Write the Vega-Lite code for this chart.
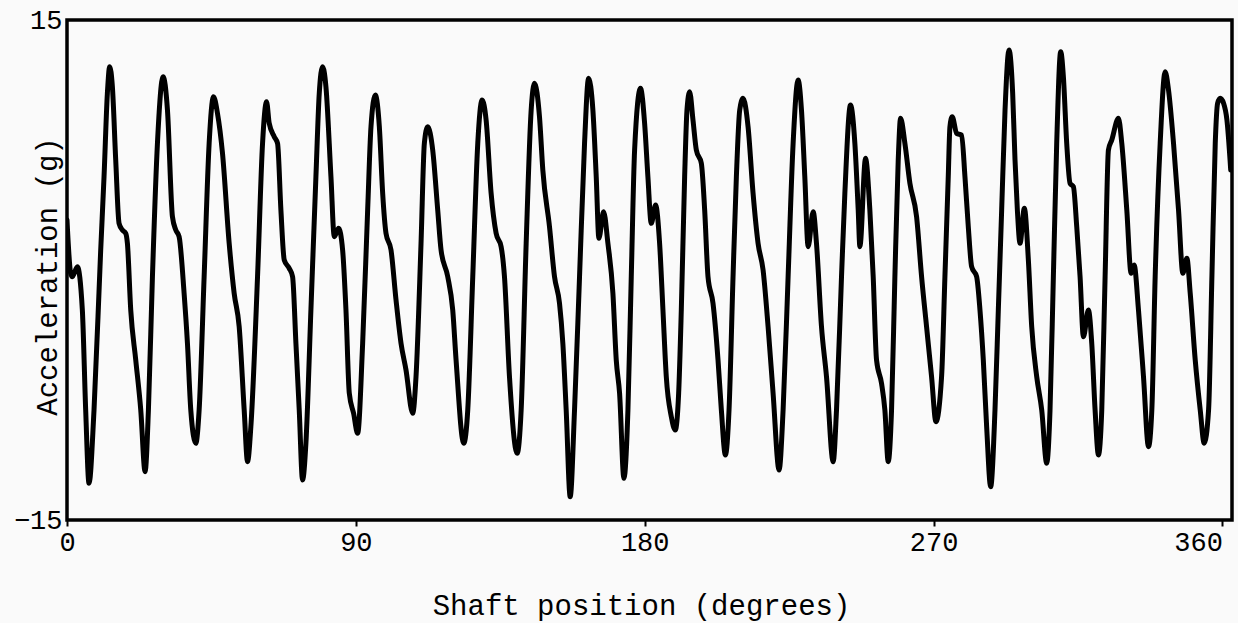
{
  "$schema": "https://vega.github.io/schema/vega-lite/v6.json",
  "width": 1165,
  "height": 500,
  "autosize": "none",
  "padding": {"left": 67, "top": 20, "right": 6, "bottom": 103},
  "background": "#fafafa",
  "config": {
    "view": {"stroke": "black", "strokeWidth": 3.5},
    "font": "Liberation Mono"
  },
  "data": {
    "values": [
      {"deg": 0, "g": 3.0}, {"deg": 1.14, "g": -0.2}, {"deg": 1.66, "g": -0.4}, {"deg": 3.22, "g": 0.2},
      {"deg": 4.78, "g": -2.4}, {"deg": 5.82, "g": -8.4}, {"deg": 6.86, "g": -12.8}, {"deg": 8.42, "g": -8.4},
      {"deg": 10.5, "g": 1.2}, {"deg": 11.54, "g": 5.6}, {"deg": 12.58, "g": 10.6}, {"deg": 13.31, "g": 12.2},
      {"deg": 14.14, "g": 11.0}, {"deg": 15.18, "g": 6.6}, {"deg": 16.22, "g": 2.8}, {"deg": 17.26, "g": 2.4},
      {"deg": 18.3, "g": 2.2}, {"deg": 18.82, "g": 1.6}, {"deg": 19.86, "g": -2.4}, {"deg": 21.42, "g": -5.4},
      {"deg": 22.98, "g": -8.4}, {"deg": 24.33, "g": -12.1}, {"deg": 25.37, "g": -8.4}, {"deg": 26.62, "g": -0.4},
      {"deg": 28.18, "g": 7.6}, {"deg": 29.94, "g": 11.6}, {"deg": 31.3, "g": 9.6}, {"deg": 32.85, "g": 3.2},
      {"deg": 33.9, "g": 2.4}, {"deg": 34.93, "g": 2.0}, {"deg": 36.49, "g": -1.4}, {"deg": 37.53, "g": -4.4},
      {"deg": 38.57, "g": -8.4}, {"deg": 40.13, "g": -10.4}, {"deg": 41.17, "g": -8.4}, {"deg": 42.73, "g": -0.4},
      {"deg": 44.29, "g": 7.6}, {"deg": 45.64, "g": 10.4}, {"deg": 46.89, "g": 9.4}, {"deg": 48.45, "g": 7.0},
      {"deg": 50.53, "g": 1.6}, {"deg": 52.09, "g": -1.4}, {"deg": 53.65, "g": -3.4}, {"deg": 55.21, "g": -8.4},
      {"deg": 56.25, "g": -11.5}, {"deg": 57.29, "g": -9.4}, {"deg": 59.37, "g": -0.4}, {"deg": 60.93, "g": 7.6},
      {"deg": 62.18, "g": 10.1}, {"deg": 63.01, "g": 8.8}, {"deg": 64.57, "g": 8.0}, {"deg": 65.61, "g": 7.6},
      {"deg": 66.65, "g": 3.6}, {"deg": 67.69, "g": 0.6}, {"deg": 69.25, "g": 0.1}, {"deg": 70.29, "g": -0.4},
      {"deg": 71.33, "g": -4.4}, {"deg": 72.36, "g": -8.4}, {"deg": 73.4, "g": -12.6}, {"deg": 74.44, "g": -10.4},
      {"deg": 76.0, "g": -2.4}, {"deg": 77.56, "g": 5.6}, {"deg": 78.6, "g": 10.6}, {"deg": 79.64, "g": 12.2},
      {"deg": 80.68, "g": 11.0}, {"deg": 82.24, "g": 5.6}, {"deg": 83.28, "g": 2.0}, {"deg": 84.63, "g": 2.5},
      {"deg": 85.88, "g": 1.2}, {"deg": 86.92, "g": -2.4}, {"deg": 87.96, "g": -7.4}, {"deg": 89.3, "g": -8.6},
      {"deg": 90.56, "g": -9.8}, {"deg": 92.12, "g": -4.4}, {"deg": 93.68, "g": 3.6}, {"deg": 94.72, "g": 8.6},
      {"deg": 96.07, "g": 10.5}, {"deg": 97.32, "g": 8.6}, {"deg": 98.36, "g": 4.6}, {"deg": 99.4, "g": 2.2},
      {"deg": 100.96, "g": 1.2}, {"deg": 102.52, "g": -1.8}, {"deg": 104.08, "g": -4.4}, {"deg": 105.63, "g": -6.0},
      {"deg": 107.71, "g": -8.6}, {"deg": 108.75, "g": -6.4}, {"deg": 110.31, "g": 1.6}, {"deg": 111.35, "g": 7.6},
      {"deg": 112.39, "g": 8.6}, {"deg": 113.95, "g": 7.2}, {"deg": 115.51, "g": 3.6}, {"deg": 116.55, "g": 1.2},
      {"deg": 118.63, "g": -0.4}, {"deg": 120.19, "g": -2.4}, {"deg": 121.23, "g": -5.4}, {"deg": 123.62, "g": -10.4},
      {"deg": 124.87, "g": -8.4}, {"deg": 126.43, "g": -0.4}, {"deg": 127.99, "g": 7.6}, {"deg": 129.34, "g": 10.2},
      {"deg": 130.59, "g": 9.0}, {"deg": 132.15, "g": 4.6}, {"deg": 133.71, "g": 2.2}, {"deg": 135.27, "g": 1.4},
      {"deg": 136.31, "g": -0.4}, {"deg": 137.87, "g": -6.4}, {"deg": 140.26, "g": -11.0}, {"deg": 141.51, "g": -8.4},
      {"deg": 143.07, "g": 1.6}, {"deg": 144.63, "g": 9.6}, {"deg": 145.66, "g": 11.2}, {"deg": 147.22, "g": 9.2},
      {"deg": 148.26, "g": 6.0}, {"deg": 150.34, "g": 2.6}, {"deg": 151.9, "g": -0.4}, {"deg": 153.46, "g": -2.0},
      {"deg": 154.5, "g": -4.4}, {"deg": 155.54, "g": -8.4}, {"deg": 156.79, "g": -13.6}, {"deg": 158.14, "g": -8.4},
      {"deg": 159.7, "g": -0.4}, {"deg": 161.26, "g": 7.6}, {"deg": 162.51, "g": 11.5}, {"deg": 163.86, "g": 9.6},
      {"deg": 164.9, "g": 5.6}, {"deg": 165.73, "g": 1.9}, {"deg": 167.19, "g": 3.5}, {"deg": 168.54, "g": 1.6},
      {"deg": 170.1, "g": -1.4}, {"deg": 171.14, "g": -5.4}, {"deg": 172.18, "g": -7.4}, {"deg": 173.53, "g": -12.5},
      {"deg": 174.78, "g": -8.4}, {"deg": 175.82, "g": -0.4}, {"deg": 176.86, "g": 7.2}, {"deg": 178.7, "g": 10.9},
      {"deg": 179.98, "g": 8.8}, {"deg": 181.0, "g": 5.6}, {"deg": 182.05, "g": 2.8}, {"deg": 183.4, "g": 3.9},
      {"deg": 184.65, "g": 1.6}, {"deg": 185.69, "g": -2.4}, {"deg": 186.73, "g": -6.4}, {"deg": 188.29, "g": -8.8},
      {"deg": 189.53, "g": -9.6}, {"deg": 190.58, "g": -7.4}, {"deg": 191.41, "g": -2.4}, {"deg": 192.45, "g": 5.6},
      {"deg": 193.18, "g": 9.6}, {"deg": 194.01, "g": 10.7}, {"deg": 195.05, "g": 9.0}, {"deg": 196.09, "g": 7.2},
      {"deg": 197.65, "g": 6.4}, {"deg": 198.69, "g": 3.6}, {"deg": 199.73, "g": -0.4}, {"deg": 201.29, "g": -2.0},
      {"deg": 202.85, "g": -5.4}, {"deg": 203.89, "g": -8.4}, {"deg": 205.14, "g": -11.1}, {"deg": 206.28, "g": -8.4},
      {"deg": 207.53, "g": -0.4}, {"deg": 208.57, "g": 5.6}, {"deg": 209.61, "g": 9.6}, {"deg": 210.65, "g": 10.3},
      {"deg": 212.21, "g": 8.6}, {"deg": 213.77, "g": 4.6}, {"deg": 215.33, "g": 1.6}, {"deg": 216.89, "g": 0.0},
      {"deg": 218.45, "g": -3.4}, {"deg": 220.01, "g": -7.4}, {"deg": 221.88, "g": -12.0}, {"deg": 223.13, "g": -8.4},
      {"deg": 224.69, "g": -0.4}, {"deg": 226.25, "g": 7.6}, {"deg": 227.81, "g": 11.4}, {"deg": 228.85, "g": 9.6},
      {"deg": 229.89, "g": 5.6}, {"deg": 230.93, "g": 1.4}, {"deg": 232.49, "g": 3.5}, {"deg": 233.53, "g": 1.6},
      {"deg": 235.09, "g": -3.4}, {"deg": 236.65, "g": -6.4}, {"deg": 238.73, "g": -11.5}, {"deg": 239.77, "g": -8.4},
      {"deg": 241.33, "g": -0.4}, {"deg": 242.37, "g": 4.6}, {"deg": 244.13, "g": 9.9}, {"deg": 245.49, "g": 7.6},
      {"deg": 246.53, "g": 3.6}, {"deg": 247.05, "g": 1.4}, {"deg": 248.81, "g": 6.7}, {"deg": 250.16, "g": 3.6},
      {"deg": 251.2, "g": -0.4}, {"deg": 252.24, "g": -5.4}, {"deg": 253.8, "g": -6.8}, {"deg": 254.84, "g": -8.4},
      {"deg": 255.88, "g": -11.5}, {"deg": 256.92, "g": -8.4}, {"deg": 257.96, "g": -0.4}, {"deg": 259.0, "g": 6.6},
      {"deg": 259.73, "g": 9.1}, {"deg": 261.08, "g": 7.6}, {"deg": 262.64, "g": 5.2}, {"deg": 264.72, "g": 3.2},
      {"deg": 266.28, "g": -0.4}, {"deg": 267.83, "g": -3.4}, {"deg": 269.39, "g": -6.4}, {"deg": 270.75, "g": -9.1},
      {"deg": 272.51, "g": -6.4}, {"deg": 273.55, "g": -0.4}, {"deg": 274.59, "g": 5.6}, {"deg": 275.11, "g": 8.6},
      {"deg": 275.83, "g": 9.2}, {"deg": 277.19, "g": 8.2}, {"deg": 278.75, "g": 8.1}, {"deg": 279.79, "g": 5.6},
      {"deg": 280.83, "g": 2.6}, {"deg": 281.87, "g": 0.2}, {"deg": 283.43, "g": -0.4}, {"deg": 284.47, "g": -2.4},
      {"deg": 285.51, "g": -5.4}, {"deg": 286.55, "g": -9.4}, {"deg": 287.8, "g": -13.0}, {"deg": 289.15, "g": -8.4},
      {"deg": 290.19, "g": -2.4}, {"deg": 291.23, "g": 3.6}, {"deg": 292.28, "g": 9.6}, {"deg": 293.52, "g": 13.2},
      {"deg": 294.66, "g": 10.6}, {"deg": 295.39, "g": 6.6}, {"deg": 296.12, "g": 3.6}, {"deg": 296.95, "g": 1.6},
      {"deg": 298.3, "g": 3.7}, {"deg": 299.55, "g": 0.6}, {"deg": 300.59, "g": -3.4}, {"deg": 302.15, "g": -6.4},
      {"deg": 303.71, "g": -8.4}, {"deg": 305.27, "g": -11.6}, {"deg": 306.3, "g": -8.4}, {"deg": 307.34, "g": -0.4},
      {"deg": 308.38, "g": 7.6}, {"deg": 309.63, "g": 13.1}, {"deg": 310.46, "g": 11.6}, {"deg": 311.5, "g": 7.6},
      {"deg": 312.54, "g": 5.2}, {"deg": 313.58, "g": 5.0}, {"deg": 314.62, "g": 2.6}, {"deg": 315.66, "g": -0.4},
      {"deg": 316.7, "g": -4.0}, {"deg": 318.26, "g": -2.4}, {"deg": 319.3, "g": -4.4}, {"deg": 320.34, "g": -8.4},
      {"deg": 321.38, "g": -11.1}, {"deg": 322.42, "g": -8.4}, {"deg": 323.46, "g": -0.4}, {"deg": 324.5, "g": 7.2},
      {"deg": 325.54, "g": 7.8}, {"deg": 327.62, "g": 9.1}, {"deg": 328.66, "g": 7.6}, {"deg": 330.22, "g": 3.6},
      {"deg": 331.57, "g": -0.2}, {"deg": 332.5, "g": 0.3}, {"deg": 333.86, "g": -2.4}, {"deg": 335.42, "g": -6.4},
      {"deg": 336.98, "g": -10.6}, {"deg": 338.02, "g": -8.4}, {"deg": 339.06, "g": -0.4}, {"deg": 340.62, "g": 7.6},
      {"deg": 342.18, "g": 11.9}, {"deg": 343.22, "g": 10.8}, {"deg": 344.78, "g": 7.6}, {"deg": 346.34, "g": 3.6},
      {"deg": 347.69, "g": -0.2}, {"deg": 348.94, "g": 0.7}, {"deg": 349.98, "g": -1.4}, {"deg": 351.54, "g": -5.4},
      {"deg": 353.1, "g": -8.4}, {"deg": 354.35, "g": -10.4}, {"deg": 355.7, "g": -8.4}, {"deg": 356.74, "g": -0.4},
      {"deg": 357.78, "g": 7.6}, {"deg": 358.51, "g": 10.0}, {"deg": 359.34, "g": 10.3}, {"deg": 360.38, "g": 10.0},
      {"deg": 361.42, "g": 9.0}, {"deg": 362.6, "g": 6.0}
    ]
  },
  "mark": {"type": "line", "color": "black", "strokeWidth": 5, "interpolate": "monotone", "strokeJoin": "round", "strokeCap": "round", "clip": true},
  "encoding": {
    "x": {
      "field": "deg",
      "type": "quantitative",
      "scale": {"domain": [0, 363], "nice": false, "zero": false},
      "axis": {
        "values": [0, 90, 180, 270, 360],
        "domain": false,
        "grid": false,
        "ticks": true,
        "tickSize": 6,
        "tickWidth": 2,
        "tickColor": "black",
        "labelFontSize": 27,
        "labelColor": "black",
        "labelPadding": 3,
        "labelBound": false,
        "labelAlign": {"condition": {"test": "datum.value == 360", "value": "right"}, "value": "center"},
        "title": "Shaft position (degrees)",
        "titleFontSize": 29,
        "titleFontWeight": "normal",
        "titleColor": "black",
        "titleBaseline": "middle",
        "titleX": 574,
        "titleY": 85
      }
    },
    "y": {
      "field": "g",
      "type": "quantitative",
      "scale": {"domain": [-15, 15], "nice": false, "zero": false},
      "axis": {
        "values": [-15, 15],
        "domain": false,
        "grid": false,
        "ticks": false,
        "labelFontSize": 27,
        "labelColor": "black",
        "labelPadding": 5,
        "title": "Acceleration (g)",
        "titleFontSize": 29,
        "titleFontWeight": "normal",
        "titleColor": "black",
        "titleBaseline": "middle",
        "titleX": -20,
        "titleY": 256
      }
    }
  }
}
